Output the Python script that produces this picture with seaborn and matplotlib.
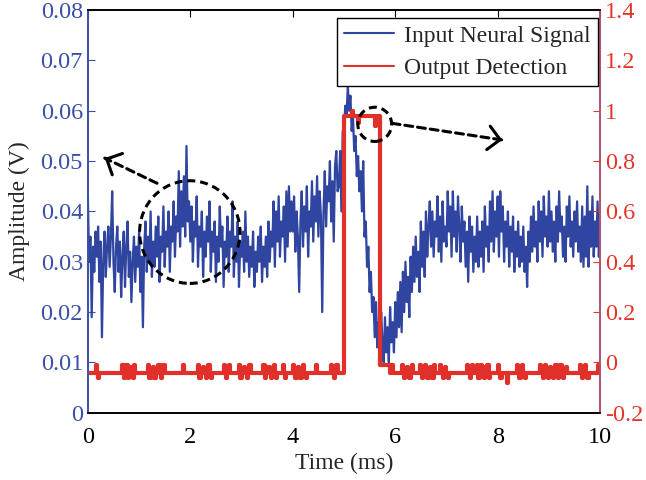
import numpy as np
import pandas as pd
import matplotlib
matplotlib.use('Agg')
import matplotlib.pyplot as plt
import seaborn as sns
from matplotlib.patches import Ellipse
from matplotlib.lines import Line2D

# sample step of both traces (ms)
dt = 0.025

# input neural signal in mV (every 0.025 ms)
signal_mv = [
    43, 30, 35, 19, 33, 28, 36, 31, 37, 26, 34, 15, 30, 36, 27, 33, 37, 29, 35, 44,
    30, 24, 33, 37, 28, 34, 23, 31, 36, 25, 33, 38, 27, 32, 22, 30, 35, 26, 33, 29,
    36, 24, 31, 17, 33, 38, 28, 35, 30, 40, 27, 34, 29, 37, 31, 39, 26, 35, 32, 41,
    29, 36, 33, 40, 28, 37, 34, 42, 31, 39, 36, 48, 33, 44, 37, 47, 35, 53, 38, 42,
    34, 41, 30, 38, 35, 43, 29, 37, 33, 40, 27, 36, 31, 39, 34, 42, 28, 36, 32, 38,
    26, 35, 30, 41, 33, 37, 25, 34, 31, 39, 28, 36, 33, 42, 27, 35, 30, 38, 25, 34,
    31, 36, 28, 40, 30, 35, 27, 33, 29, 36, 25, 32, 28, 35, 30, 37, 26, 33, 29, 35,
    27, 38, 30, 36, 33, 42, 29, 40, 34, 43, 31, 38, 35, 41, 30, 44, 33, 45, 36, 42,
    36, 43, 32, 40, 35, 24, 38, 44, 33, 41, 36, 45, 31, 40, 37, 46, 34, 43, 38, 47,
    35, 44, 39, 20, 40, 48, 37, 45, 42, 50, 38, 46, 34, 49, 52, 44, 45, 52, 40, 56,
    56, 61, 59, 65, 60, 63, 56, 59, 52, 55, 47, 51, 44, 48, 40, 50, 35, 38, 29, 33,
    24, 28, 20, 23, 15, 22, 13, 18, 11, 20, 14, 10, 19, 12, 17, 10, 21, 14, 18, 12,
    22, 15, 24, 17, 26, 16, 28, 20, 30, 22, 27, 19, 31, 24, 33, 26, 35, 27, 32, 24,
    38, 29, 36, 27, 40, 31, 37, 42, 33, 40, 31, 38, 35, 43, 32, 39, 30, 42, 34, 37,
    33, 44, 36, 41, 31, 44, 35, 40, 32, 43, 37, 30, 41, 34, 38, 29, 36, 26, 39, 32,
    37, 28, 35, 30, 39, 29, 36, 31, 38, 28, 41, 33, 37, 30, 42, 34, 44, 32, 40, 35,
    43, 31, 44, 36, 41, 30, 38, 33, 40, 29, 37, 32, 39, 28, 36, 31, 38, 29, 35, 30,
    37, 28, 33, 25, 36, 30, 39, 32, 41, 33, 38, 30, 42, 34, 40, 31, 43, 35, 39, 33,
    44, 34, 40, 32, 38, 30, 41, 34, 44, 36, 39, 31, 37, 30, 41, 35, 43, 33, 38, 31,
    40, 34, 42, 32, 37, 30, 41, 29, 39, 31, 45, 29, 40, 33, 43, 31, 38, 33, 42, 31,
    37,
]

# output detection, in hundredths
detect_pct = [
    -4, -4, -4, -4, -4, -4, -1, -4, -6, -4, -4, -4, -4, -4, -4, -4, -4, -4, -4, -4,
    -4, -4, -4, -4, -4, -4, -4, -1, -6, -4, -1, -6, -4, -2, -4, -6, -1, -4, -4, -4,
    -4, -4, -4, -4, -4, -4, -4, -1, -6, -4, -4, -2, -6, -4, -4, -1, -4, -6, -4, -1,
    -4, -4, -4, -4, -4, -4, -4, -4, -4, -4, -4, -4, -4, -4, -1, -4, -4, -4, -4, -4,
    -4, -4, -4, -4, -4, -4, -1, -6, -4, -4, -2, -4, -6, -4, -1, -4, -6, -4, -4, -4,
    -4, -4, -4, -4, -4, -4, -1, -4, -6, -4, -1, -4, -4, -4, -4, -4, -4, -4, -1, -6,
    -4, -4, -2, -4, -6, -4, -1, -4, -4, -4, -4, -4, -4, -4, -4, -4, -4, -1, -6, -4,
    -4, -2, -4, -6, -4, -1, -4, -6, -4, -4, -4, -4, -1, -4, -6, -4, -4, -4, -4, -4,
    -1, -4, -6, -4, -2, -4, -6, -4, -1, -4, -6, -4, -4, -4, -4, -4, -4, -4, -1, -4,
    -4, -4, -4, -4, -4, -4, -4, -4, -4, -4, -1, -4, -6, -4, -1, -4, -4, -4, -4, -4,
    98, 98, 98, 98, 98, 98, 100, 98, 98, 98, 98, 95, 98, 98, 98, 98, 98, 98, 98, 98,
    98, 98, 98, 98, 94, 98, 96, 98, -1, -1, -1, -1, -1, -1, -1, -1, -4, -1, -4, -4,
    -4, -4, -4, -4, -4, -1, -4, -6, -4, -2, -4, -6, -4, -1, -4, -4, -4, -4, -4, -1,
    -4, -6, -4, -1, -4, -6, -4, -2, -4, -6, -1, -4, -4, -4, -4, -1, -4, -6, -4, -2,
    -4, -6, -4, -4, -4, -4, -4, -4, -4, -4, -4, -4, -4, -4, -4, -4, -1, -4, -6, -4,
    -1, -4, -4, -4, -1, -6, -4, -1, -4, -6, -2, -4, -1, -6, -4, -4, -4, -4, -4, -4,
    -1, -4, -6, -4, -4, -4, -4, -8, -4, -4, -4, -4, -4, -4, -4, -1, -4, -6, -4, -1,
    -4, -6, -4, -4, -4, -4, -4, -4, -4, -4, -4, -4, -4, -1, -4, -6, -4, -1, -4, -6,
    -4, -2, -4, -6, -4, -1, -4, -6, -4, -1, -4, -6, -4, -2, -4, -4, -4, -4, -4, -4,
    -4, -4, -4, -4, -1, -4, -6, -4, -1, -4, -6, -4, -4, -4, -4, -4, -4, -4, -1, -4,
    -4,
]

x_ticks = [0, 2, 4, 6, 8, 10]
left_ticks = [0, 0.01, 0.02, 0.03, 0.04, 0.05, 0.06, 0.07, 0.08]
left_labels = ['0', '0.01', '0.02', '0.03', '0.04', '0.05', '0.06', '0.07', '0.08']
right_ticks = [-0.2, 0, 0.2, 0.4, 0.6, 0.8, 1.0, 1.2, 1.4]
right_labels = ['-0.2', '0', '0.2', '0.4', '0.6', '0.8', '1', '1.2', '1.4']
legend_labels = ['Input Neural Signal', 'Output Detection']

df = pd.DataFrame({
    'time': np.arange(len(signal_mv)) * dt,
    'signal': np.array(signal_mv) / 1000,
    'detect': np.array(detect_pct) / 100,
})

sns.set_style('white')
plt.rcParams['font.family'] = ['Liberation Serif', 'DejaVu Serif']
plt.rcParams['font.size'] = 17

blue = '#2f45a0'
red = '#e1302a'

fig = plt.figure(figsize=(6.46, 4.8), dpi=100)
ax = fig.add_axes([0.136, 0.140, 0.793, 0.839])
sns.lineplot(data=df, x='time', y='signal', ax=ax, color=blue, lw=1.6, legend=False)

ax2 = ax.twinx()
sns.lineplot(data=df, x='time', y='detect', ax=ax2, color=red, lw=3.0,
             drawstyle='steps-post', legend=False)

ax.set_xlim(0, 10)
ax.set_ylim(0, 0.08)
ax2.set_ylim(-0.2, 1.4)
ax.set_xticks(x_ticks)
ax.set_xticklabels([str(v) for v in x_ticks])
ax.set_yticks(left_ticks)
ax.set_yticklabels(left_labels)
ax2.set_yticks(right_ticks)
ax2.set_yticklabels(right_labels)

ax.set_xlabel('Time (ms)', fontsize=17, labelpad=4)
ax.set_ylabel('Amplitude (V)', fontsize=17, labelpad=8)
ax2.set_ylabel('')

ax.tick_params(axis='x', direction='in', top=True, length=5, colors='black',
               labelsize=17.5, pad=10)
ax.tick_params(axis='y', direction='in', length=5, colors='#3a4fa8', labelsize=17.5)
ax2.tick_params(axis='y', direction='in', length=5, colors='#e5352b', labelsize=17.5)

for a in (ax, ax2):
    a.spines['top'].set_color('black')
    a.spines['bottom'].set_color('black')
    a.spines['left'].set_color('#3a4fa8')
    a.spines['right'].set_color('#b0506a')
    for s in a.spines.values():
        s.set_linewidth(1.2)

# legend
handles = [Line2D([], [], color=blue, lw=1.5), Line2D([], [], color=red, lw=1.5)]
leg = ax2.legend(handles, legend_labels, loc='upper right', bbox_to_anchor=(0.996, 0.980),
                 borderaxespad=0, frameon=True, fancybox=False, edgecolor='black',
                 framealpha=1, handlelength=2.1, fontsize=17, labelspacing=0.45,
                 borderpad=0.3, handletextpad=0.45)
leg.get_frame().set_linewidth(1.0)

# dashed circles and arrows
dash = (0, (2.6, 1.6))
ax2.add_patch(Ellipse((1.99, 0.0359), 1.96, 0.0204, fill=False, ls=dash, lw=2.2,
                      color='black', transform=ax.transData, zorder=5))
ax2.add_patch(Ellipse((5.60, 0.0573), 0.66, 0.0068, fill=False, ls=dash, lw=2.2,
                      color='black', transform=ax.transData, zorder=5))

arrows = [((1.35, 0.0456), (0.33, 0.0506)), ((5.94, 0.0575), (8.09, 0.0542))]
for start, end in arrows:
    ax2.annotate('', xy=end, xytext=start, xycoords=ax.transData, textcoords=ax.transData,
                 arrowprops=dict(arrowstyle='-', ls=dash, lw=2.2, color='black',
                                 shrinkA=0, shrinkB=0))
    back = (end[0] + (start[0] - end[0]) * 0.03, end[1] + (start[1] - end[1]) * 0.03)
    ax2.annotate('', xy=end, xytext=back, xycoords=ax.transData, textcoords=ax.transData,
                 arrowprops=dict(arrowstyle='->,head_length=0.5,head_width=0.5', lw=2.2,
                                 color='black', shrinkA=0, shrinkB=0))

fig.savefig('out.png', dpi=100)
